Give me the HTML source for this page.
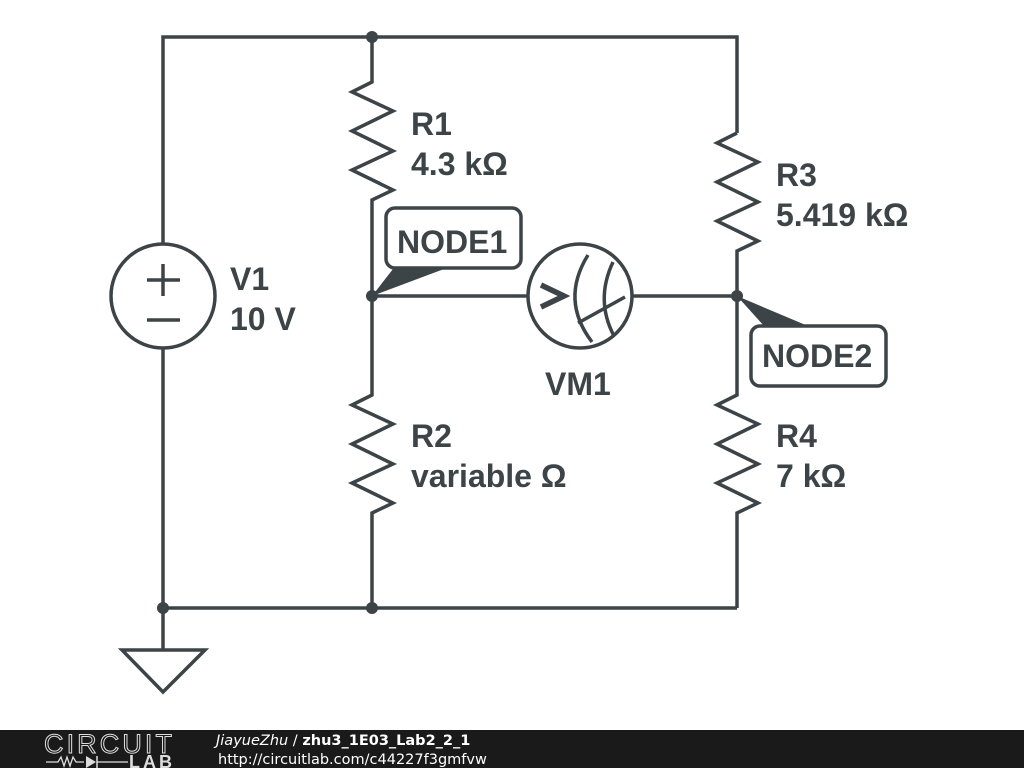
<!DOCTYPE html>
<html><head><style>
html,body{margin:0;padding:0;background:#fff;width:1024px;height:768px;overflow:hidden}
svg{display:block}
.t{font-family:"Liberation Sans",sans-serif;font-weight:bold;font-size:32px;fill:#3d4447}
</style></head><body>
<svg width="1024" height="768" viewBox="0 0 1024 768">
<g stroke="#3d4447" stroke-width="3.5" fill="none" stroke-linejoin="miter">
<polyline points="163,244 163,37 737,37 737,133"/>
<line x1="163" y1="348" x2="163" y2="650"/>
<line x1="163" y1="608" x2="737" y2="608"/>
<polygon points="122,650 205,650 163,692"/>
<polyline points="372,37 372,82 352,92 393,111 352,131 393,151 352,170 393,190 372,200 372,395 352,405 393,424 352,444 393,464 352,483 393,503 372,513 372,608"/>
<polyline points="737,133 717,143 758,162 717,182 758,202 717,221 758,241 737,251 737,395 717,405 758,424 717,444 758,464 717,483 758,503 737,513 737,608"/>
<line x1="372" y1="296" x2="528" y2="296"/>
<line x1="632" y1="296" x2="737" y2="296"/>
<circle cx="163" cy="296" r="52"/>
<line x1="147" y1="280" x2="180" y2="280"/><line x1="163" y1="264" x2="163" y2="296"/>
<line x1="147" y1="320" x2="180" y2="320"/>
<circle cx="580" cy="296" r="52"/>
<path d="M588,255 Q560,300 592,342"/>
<path d="M613,262 Q595,300 614,336"/>
<line x1="578" y1="323" x2="625" y2="297"/>
<rect x="386" y="208" width="135" height="60" rx="9"/>
<rect x="751" y="326" width="135" height="60" rx="9"/>
</g>
<polyline points="541,285 564,296 541,307" stroke="#3d4447" stroke-width="5.5" fill="none"/>
<polygon points="372,296 393,269 444,269" fill="#3d4447"/>
<polygon points="737,296 764,326 808,326" fill="#3d4447"/>
<g fill="#3d4447">
<circle cx="372" cy="37" r="6"/><circle cx="372" cy="296" r="6"/><circle cx="737" cy="296" r="6"/>
<circle cx="163" cy="608" r="6"/><circle cx="372" cy="608" r="6"/>
</g>
<text class="t" x="411" y="135">R1</text><text class="t" x="411" y="175">4.3 kΩ</text>
<text class="t" x="776" y="186">R3</text><text class="t" x="776" y="226">5.419 kΩ</text>
<text class="t" x="411" y="447">R2</text><text class="t" x="411" y="487">variable Ω</text>
<text class="t" x="776" y="447">R4</text><text class="t" x="776" y="487">7 kΩ</text>
<text class="t" x="230" y="290">V1</text><text class="t" x="230" y="330">10 V</text>
<text class="t" x="545" y="395">VM1</text>
<text class="t" x="397" y="253">NODE1</text>
<text class="t" x="762" y="367">NODE2</text>
<rect x="0" y="730" width="1024" height="38" fill="#1a1a1a"/>
<text x="44" y="753" font-family="Liberation Sans,sans-serif" font-size="27" fill="none" stroke="#ddd" stroke-width="1" textLength="128">CIRCUIT</text>
<polyline points="46,762 58,762 61,757 64,766 67,757 70,766 73,757 76,762 84,762" stroke="#ddd" stroke-width="1.3" fill="none"/>
<polygon points="86,756 86,768 96,762" fill="#ddd"/><line x1="97" y1="756" x2="97" y2="768" stroke="#ddd" stroke-width="1.5"/>
<line x1="97" y1="762" x2="128" y2="762" stroke="#ddd" stroke-width="1.3"/>
<text x="129" y="768" font-family="Liberation Sans,sans-serif" font-weight="bold" font-size="18" fill="#ddd" textLength="43">LAB</text>
<text x="216" y="745" font-family="DejaVu Sans,sans-serif" font-size="14.5" fill="#fff"><tspan font-style="italic">JiayueZhu</tspan> / <tspan font-weight="bold">zhu3_1E03_Lab2_2_1</tspan></text>
<text x="218" y="764" font-family="DejaVu Sans,sans-serif" font-size="14.5" fill="#fff">http://circuitlab.com/c44227f3gmfvw</text>
</svg>
</body></html>
